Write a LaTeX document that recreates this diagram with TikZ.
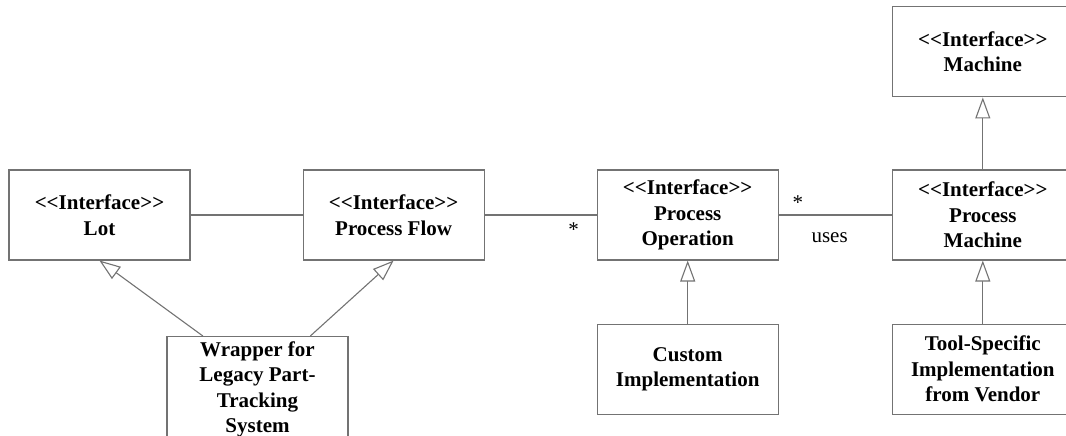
\documentclass[tikz,border=0pt]{standalone}
\usepackage{fontspec}
\setmainfont{Liberation Serif}
\usepackage{tikz}
\usetikzlibrary{arrows.meta,positioning,calc}

\newcommand{\iface}[1]{<\kern0pt<Interface>\kern0pt>\\#1}

\begin{document}
\begin{tikzpicture}[
  x=1pt, y=1pt,
  font=\fontsize{21}{25.5}\selectfont,
  box/.style={draw=black!55, line width=1.1pt, align=center, inner sep=0pt, minimum width=181pt, minimum height=90pt, font=\fontsize{21}{25.5}\selectfont\bfseries},
  link/.style={draw=black!55, line width=1.1pt},
  inh/.style={link, -{Triangle[open, length=21pt, width=15pt, fill=white]}},
  node distance=112pt
]
\useasboundingbox (0,0) rectangle (1066,-436);
\clip (0,0) rectangle (1066,-436);
\node[box] at (99.5,-215) (lot) {\iface{Lot}};
\node[box, right=of lot]  (flow)  {\iface{Process Flow}};
\node[box, right=of flow] (oper)  {\iface{Process\\Operation}};
\node[box, right=113pt of oper] (pmach) {\iface{Process\\Machine}};
\node[box, above=72pt of pmach] (mach)  {\iface{Machine}};
\node[box, below=63pt of oper]  (custom) {Custom\\Implementation};
\node[box, below=63pt of pmach] (tool)  {Tool-Specific\\Implementation\\from Vendor};
\node[box, minimum height=106pt, anchor=north] at (257.5,-336) (wrap) {Wrapper for\\Legacy Part-\\Tracking\\System};
\coordinate (wrapL) at ($(wrap.north west)!0.2!(wrap.north east)$);
\coordinate (wrapR) at ($(wrap.north west)!0.79!(wrap.north east)$);
\draw[link] (lot) -- (flow);
\draw[link] (flow) -- (oper) node[pos=1, below left=4pt and 14pt] (many1) {*};
\draw[link] (oper) -- (pmach) node[pos=0, above right=2pt and 10pt] (many2) {*}
  node[pos=0.45, below=14pt] (uses) {uses};
\draw[inh] (wrapL) -- (lot.south);
\draw[inh] (wrapR) -- (flow.south);
\draw[inh] (custom) -- (oper);
\draw[inh] (tool) -- (pmach);
\draw[inh] (pmach) -- (mach);
\end{tikzpicture}
\end{document}
